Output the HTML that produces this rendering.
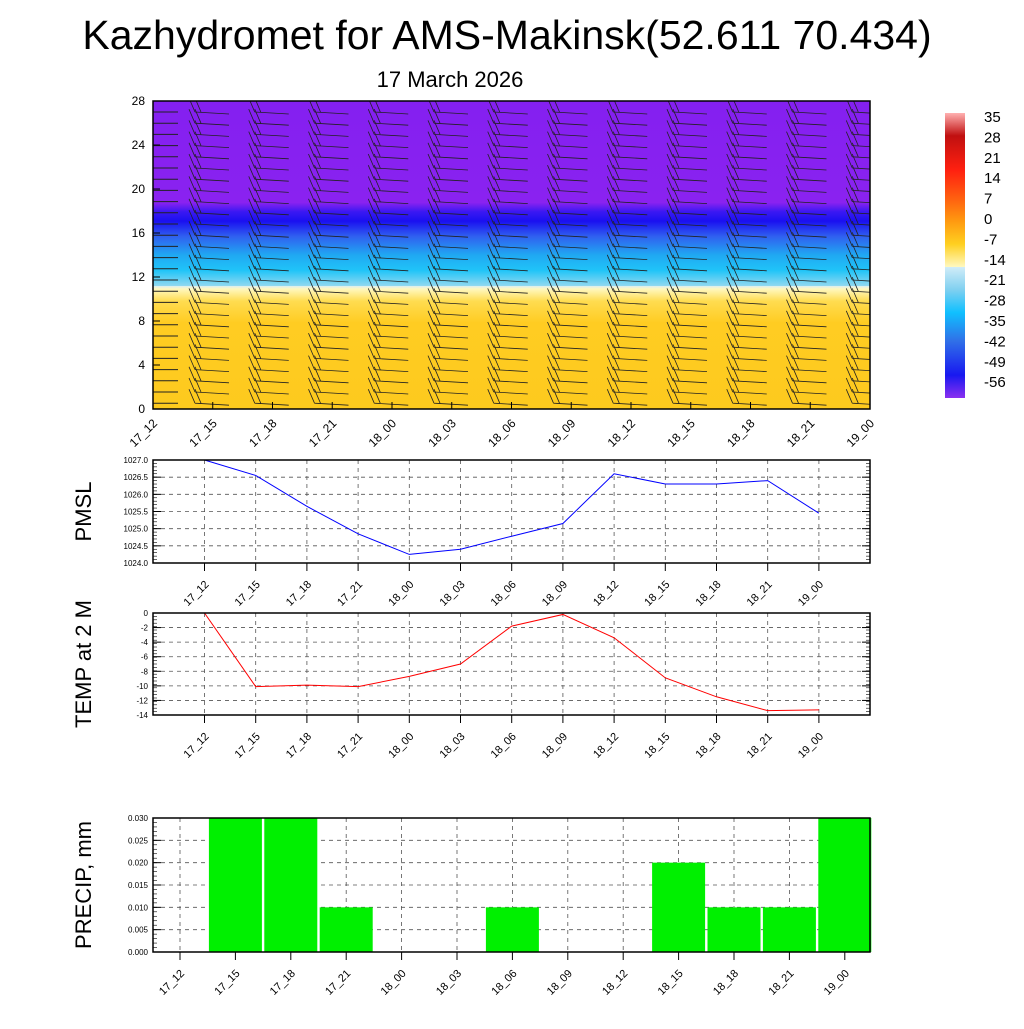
<!DOCTYPE html>
<html><head><meta charset="utf-8"><style>
body{margin:0;background:#fff;}
svg text{font-family:"Liberation Sans",sans-serif;}
</style></head><body>
<svg id="s" width="1024" height="1024" viewBox="0 0 1024 1024">
<defs>
<clipPath id="clipTop"><rect x="153" y="101" width="717" height="308"/></clipPath>
<linearGradient id="tg" x1="0" y1="101" x2="0" y2="409" gradientUnits="userSpaceOnUse">
<stop offset="0" stop-color="#8420f0"/>
<stop offset="0.33" stop-color="#8a22f0"/>
<stop offset="0.36" stop-color="#3a18f2"/>
<stop offset="0.39" stop-color="#1a10f0"/>
<stop offset="0.44" stop-color="#3060f0"/>
<stop offset="0.5" stop-color="#20a8f2"/>
<stop offset="0.55" stop-color="#20c4f8"/>
<stop offset="0.6" stop-color="#90d8f0"/>
<stop offset="0.6" stop-color="#d8eef4"/>
<stop offset="0.61" stop-color="#fff8c0"/>
<stop offset="0.65" stop-color="#ffdc50"/>
<stop offset="0.72" stop-color="#ffcc22"/>
<stop offset="1" stop-color="#fdca1e"/>
</linearGradient>
<linearGradient id="cb" x1="0" y1="113" x2="0" y2="398" gradientUnits="userSpaceOnUse">
<stop offset="0" stop-color="#ffb0b0"/>
<stop offset="0.08" stop-color="#c01010"/>
<stop offset="0.2" stop-color="#ff2010"/>
<stop offset="0.3" stop-color="#ff6010"/>
<stop offset="0.38" stop-color="#ff9a10"/>
<stop offset="0.46" stop-color="#ffd020"/>
<stop offset="0.54" stop-color="#fff8c0"/>
<stop offset="0.541" stop-color="#d0ecf8"/>
<stop offset="0.62" stop-color="#80d0f0"/>
<stop offset="0.7" stop-color="#10c0ff"/>
<stop offset="0.8" stop-color="#3070e8"/>
<stop offset="0.92" stop-color="#1818f0"/>
<stop offset="1" stop-color="#8a30f0"/>
</linearGradient>
</defs>
<text x="507" y="49" font-size="41" text-anchor="middle">Kazhydromet for AMS-Makinsk(52.611 70.434)</text>
<text x="450" y="87" font-size="22" text-anchor="middle">17 March 2026</text>
<rect x="153" y="101" width="717" height="308" fill="url(#tg)"/>
<g id="barbs" clip-path="url(#clipTop)"></g>
<rect x="153" y="101" width="717" height="308" fill="none" stroke="#000" stroke-width="1.5"/>
<g id="topax"></g>
<rect x="945" y="113" width="20" height="285" fill="url(#cb)"/>
<g id="cblab"></g>
<g id="pmsl"></g>
<g id="temp"></g>
<g id="prec"></g>
</svg>
<script>
const times=["17_12","17_15","17_18","17_21","18_00","18_03","18_06","18_09","18_12","18_15","18_18","18_21","19_00"];
const pmslVals=[1027.0,1026.55,1025.65,1024.85,1024.25,1024.4,1024.78,1025.15,1026.6,1026.3,1026.3,1026.4,1025.45];
const tempVals=[0,-10.1,-9.9,-10.1,-8.7,-7.0,-1.8,-0.2,-3.4,-8.9,-11.5,-13.4,-13.3];
const precVals=[0,0.03,0.03,0.01,0,0,0.01,0,0,0.02,0.01,0.01,0.03];
const pmslTicks=[1024.0,1024.5,1025.0,1025.5,1026.0,1026.5,1027.0];
const tempTicks=[0,-2,-4,-6,-8,-10,-12,-14];
const precTicks=[0,0.005,0.01,0.015,0.02,0.025,0.03];
const heightTicks=[0,4,8,12,16,20,24,28];
const cbLabels=["35","28","21","14","7","0","-7","-14","-21","-28","-35","-42","-49","-56"];
(function(){
const NS="http://www.w3.org/2000/svg";
function mk(p,t,a){const e=document.createElementNS(NS,t);for(const k in a)e.setAttribute(k,a[k]);p.appendChild(e);return e;}
const topG=document.getElementById('topax');
const hy=v=>409-v*(308/28);
heightTicks.forEach(v=>{const y=hy(v);
 const t=mk(topG,'text',{x:145,y:y+4,'font-size':12,'text-anchor':'end'});t.textContent=v;
 
 
 mk(topG,'line',{x1:153,x2:160,y1:y,y2:y,stroke:'#000'});});
const tx=i=>153+i*(717/12);
times.forEach((s,i)=>{const x=tx(i);
 mk(topG,'line',{x1:x,x2:x,y1:409,y2:402,stroke:'#000'});
 const t=mk(topG,'text',{x:x+5,y:424,'font-size':12,'text-anchor':'end',transform:`rotate(-45 ${x+5} 424)`});t.textContent=s;
 
 });
const bg=document.getElementById('barbs');
for(let c=0;c<12;c++){const cx=tx(c)+42;
 for(let y=112;y<408;y+=11.2){
  mk(bg,'path',{d:`M${cx} ${y}L${cx+34} ${y+2}M${cx} ${y}L${cx-6} ${y-14}M${cx+6} ${y}L${cx} ${y-14}`,stroke:'#222','stroke-width':0.8,fill:'none'});}}
for(let y=112;y<408;y+=11.2) mk(bg,'line',{x1:153,x2:178,y1:y,y2:y,stroke:'#222','stroke-width':1});
const cbl=document.getElementById('cblab');
cbLabels.forEach((s,i)=>{const t=mk(cbl,'text',{x:984,y:122+i*20.4,'font-size':15});t.textContent=s;
 
 });
function panel(g,y0,y1,ticks,fmt,vals,color,ylabel,lmin,lmax,xs,bars){
 const X0=153,X1=870,H=y1-y0;
 const Y=v=>y1-(v-lmin)/(lmax-lmin)*H;
 ticks.forEach(v=>{const y=Y(v);
  if(y>y0+1&&y<y1-1)mk(g,'line',{x1:X0,x2:X1,y1:y,y2:y,stroke:'#555','stroke-dasharray':'4 4','stroke-width':0.8});
  mk(g,'line',{x1:X0,x2:X0+8,y1:y,y2:y,stroke:'#000'});mk(g,'line',{x1:X1,x2:X1-8,y1:y,y2:y,stroke:'#000'});
  const t=mk(g,'text',{x:X0-5,y:y+3,'font-size':8,'text-anchor':'end'});t.textContent=fmt(v);
  
  });
 for(let k=0;k<=30;k++){const y=y1-k*H/30;mk(g,'line',{x1:X0,x2:X0+4,y1:y,y2:y,stroke:'#000','stroke-width':0.6});mk(g,'line',{x1:X1,x2:X1-4,y1:y,y2:y,stroke:'#000','stroke-width':0.6});}
 times.forEach((s,i)=>{const x=xs(i);
  mk(g,'line',{x1:x,x2:x,y1:y0,y2:y1,stroke:'#555','stroke-dasharray':'4 4','stroke-width':0.8});
  mk(g,'line',{x1:x,x2:x,y1:y1,y2:y1+8,stroke:'#000'});
  const t=mk(g,'text',{x:x+5,y:y1+22,'font-size':11,'text-anchor':'end',transform:`rotate(-45 ${x+5} ${y1+22})`});t.textContent=s;
  
  });
 if(bars){const bw=53;vals.forEach((v,i)=>{if(v>0){const r=mk(g,'rect',{x:xs(i)-bw/2,y:Y(v),width:bw,height:y1-Y(v),fill:'#00f000'});
   
   }});}
 else{const p=mk(g,'polyline',{points:vals.map((v,i)=>xs(i)+','+Y(v)).join(' '),fill:'none',stroke:color,'stroke-width':1});
  
  }
 mk(g,'rect',{x:X0,y:y0,width:X1-X0,height:H,fill:'none',stroke:'#000','stroke-width':1.5});
 const yl=mk(g,'text',{x:0,y:0,'font-size':22,'text-anchor':'middle',transform:`translate(${X0-62} ${(y0+y1)/2}) rotate(-90)`});yl.textContent=ylabel;
 
 
}
const lx=i=>204.5+i*51.2;
panel(document.getElementById('pmsl'),460,563,pmslTicks,v=>v.toFixed(1),pmslVals,'#0000ff','PMSL',1024,1027,lx,false);
panel(document.getElementById('temp'),613,715,tempTicks,v=>String(v),tempVals,'#ff0000','TEMP at 2 M',-14,0,lx,false);
panel(document.getElementById('prec'),818,952,precTicks,v=>v.toFixed(3),precVals,'','PRECIP, mm',0,0.03,i=>180+i*55.4,true);
})();
</script>
</body></html>
